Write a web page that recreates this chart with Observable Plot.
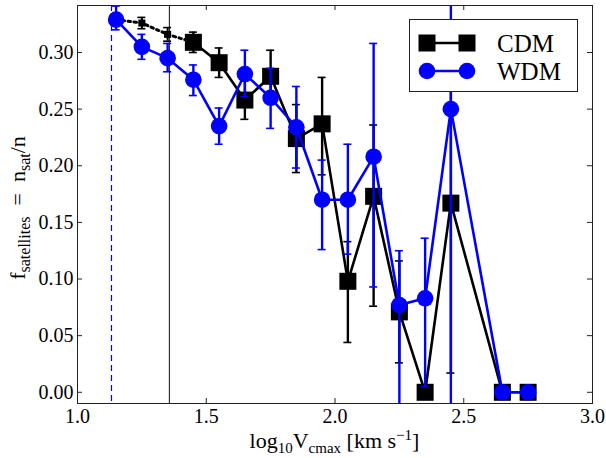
<!DOCTYPE html>
<html>
<head>
<meta charset="utf-8">
<script src="https://cdn.jsdelivr.net/npm/d3@7"></script>
<script src="https://cdn.jsdelivr.net/npm/@observablehq/plot@0.6"></script>
<style>
  html, body { margin: 0; padding: 0; background: white; }
  #chart { width: 606px; height: 458px; }
</style>
</head>
<body>
<div id="chart"></div>
<script>
// ---- data ----
const xTicks = [1.0, 1.5, 2.0, 2.5, 3.0];
const yTicks = [0.00, 0.05, 0.10, 0.15, 0.20, 0.25, 0.30];

// CDM (black squares, solid)
const cdmX     = [1.45, 1.55, 1.65, 1.75, 1.85, 1.95, 2.05, 2.15, 2.25, 2.35, 2.45, 2.65, 2.75];
const cdmY     = [0.309, 0.291, 0.258, 0.279, 0.224, 0.237, 0.098, 0.173, 0.071, 0.000, 0.167, 0.000, 0.000];
const cdmErrLo = [0.009, 0.013, 0.017, 0.023, 0.030, 0.045, 0.054, 0.097, 0.045, 0.000, 0.150, 0.000, 0.000];
const cdmErrHi = [0.009, 0.013, 0.017, 0.023, 0.030, 0.041, 0.035, 0.063, 0.045, 0.000, 0.150, 0.000, 0.000];

// CDM low-resolution continuation (black, dotted, small markers)
const cdmLowX   = [1.15, 1.25, 1.35, 1.45];
const cdmLowY   = [0.329, 0.326, 0.316, 0.309];
const cdmLowErr = [0.005, 0.005, 0.006, 0.000];

// WDM (blue circles)
const wdmX     = [1.15, 1.25, 1.35, 1.45, 1.55, 1.65, 1.75, 1.85, 1.95, 2.05, 2.15, 2.25, 2.35, 2.45, 2.65, 2.75];
const wdmY     = [0.329, 0.305, 0.295, 0.276, 0.235, 0.281, 0.260, 0.234, 0.170, 0.170, 0.208, 0.077, 0.083, 0.250, 0.000, 0.000];
const wdmErrLo = [0.009, 0.011, 0.012, 0.014, 0.016, 0.020, 0.027, 0.036, 0.044, 0.048, 0.115, 0.120, 0.078, 0.350, 0.000, 0.000];
const wdmErrHi = [0.012, 0.011, 0.013, 0.013, 0.016, 0.021, 0.026, 0.036, 0.035, 0.049, 0.100, 0.048, 0.053, 0.350, 0.000, 0.000];

// resolution limits (vertical lines)
const wdmLimit = [1.132];
const cdmLimit = [1.357];

const legendLabels = ["CDM", "WDM"];

// ---- build tables ----
const BLUE = "#0000ff";
const mk = (X, Y, lo, hi) => X.map((x, i) => ({x, y: Y[i], lo: Y[i] - lo[i], hi: Y[i] + hi[i], err: lo[i] + hi[i]}));
const cdm = mk(cdmX, cdmY, cdmErrLo, cdmErrHi);
const cdmLow = mk(cdmLowX, cdmLowY, cdmLowErr, cdmLowErr);
const wdm = mk(wdmX, wdmY, wdmErrLo, wdmErrHi);
const cdmLowPts = cdmLow.filter(d => d.err > 0);

const FONT = "'Liberation Serif', 'DejaVu Serif', serif";
const plotW = 606, plotH = 458, mL = 77, mR = 14, mT = 5, mB = 55;
const innerW = plotW - mL - mR, innerH = plotH - mT - mB;
const TICK = 5;

function errorMarks(data, color, w) {
  const f = data.filter(d => d.err > 0);
  return [
    Plot.ruleX(f, {x: "x", y1: "lo", y2: "hi", stroke: color, strokeWidth: w, clip: true}),
    Plot.ruleY(f, {y: "hi", x1: "x", x2: "x", insetLeft: -4, insetRight: -4, stroke: color, strokeWidth: 1.6, clip: true}),
    Plot.ruleY(f, {y: "lo", x1: "x", x2: "x", insetLeft: -4, insetRight: -4, stroke: color, strokeWidth: 1.6, clip: true})
  ];
}

const chart = Plot.plot({
  width: plotW, height: plotH,
  marginLeft: mL, marginRight: mR, marginTop: mT, marginBottom: mB,
  x: {domain: [1, 3]},
  y: {domain: [-0.0099, 0.3415]},
  style: {fontFamily: FONT, fontSize: "20px", background: "white", color: "black"},
  marks: [
    // resolution limits
    Plot.ruleX(wdmLimit, {stroke: BLUE, strokeWidth: 1.2, strokeDasharray: "6,4"}),
    Plot.ruleX(cdmLimit, {stroke: "#333", strokeWidth: 1.2}),
    // CDM low-res dotted
    Plot.line(cdmLow, {x: "x", y: "y", stroke: "black", strokeWidth: 3, strokeDasharray: "2.5,3.5"}),
    ...errorMarks(cdmLowPts, "black", 2),
    Plot.dot(cdmLowPts, {x: "x", y: "y", symbol: "square", r: 4, fill: "black"}),
    // CDM
    ...errorMarks(cdm, "black", 2.4),
    Plot.line(cdm, {x: "x", y: "y", stroke: "black", strokeWidth: 2.6}),
    Plot.dot(cdm, {x: "x", y: "y", symbol: "square", r: 9.6, fill: "black"}),
    // WDM
    ...errorMarks(wdm, BLUE, 2.4),
    Plot.line(wdm, {x: "x", y: "y", stroke: BLUE, strokeWidth: 2.6}),
    Plot.dot(wdm, {x: "x", y: "y", r: 8.3, fill: BLUE}),
    // inward ticks on all four sides
    Plot.ruleX(xTicks, {stroke: "#222", strokeWidth: 1, insetTop: innerH - TICK}),
    Plot.ruleX(xTicks, {stroke: "#222", strokeWidth: 1, insetBottom: innerH - TICK}),
    Plot.ruleY(yTicks, {stroke: "#222", strokeWidth: 1, insetRight: innerW - TICK}),
    Plot.ruleY(yTicks, {stroke: "#222", strokeWidth: 1, insetLeft: innerW - TICK}),
    // axes labels
    Plot.axisX(xTicks, {tickSize: 0, tickPadding: 5, tickFormat: d3.format(".1f"), label: null, fontSize: 20}),
    Plot.axisY(yTicks, {tickSize: 0, tickPadding: 4, tickFormat: d3.format(".2f"), label: null, fontSize: 20}),
    Plot.frame({stroke: "#222", strokeWidth: 1})
  ]
});

document.getElementById("chart").appendChild(chart);

// ---- axis titles with sub/superscripts ----
const svg = d3.select(chart);
const xl = svg.append("text")
  .attr("x", mL + innerW / 2).attr("y", 448)
  .attr("text-anchor", "middle")
  .attr("font-family", FONT).attr("font-size", 22).attr("fill", "black");
xl.append("tspan").text("log");
xl.append("tspan").attr("dy", 5).attr("font-size", 15).text("10");
xl.append("tspan").attr("dy", -5).text("V");
xl.append("tspan").attr("dy", 5).attr("font-size", 15).text("cmax");
xl.append("tspan").attr("dy", -5).text(" [km s");
xl.append("tspan").attr("dy", -8).attr("font-size", 15).text("−1");
xl.append("tspan").attr("dy", 8).text("]");

const yl = svg.append("text")
  .attr("transform", `translate(25,${mT + innerH / 2 + 4}) rotate(-90)`)
  .attr("text-anchor", "middle")
  .attr("font-family", FONT).attr("font-size", 22).attr("fill", "black")
  .style("white-space", "pre");
yl.append("tspan").text("f");
yl.append("tspan").attr("dy", 5).attr("font-size", 16).text("satellites");
yl.append("tspan").attr("dy", -5).text("  =  n");
yl.append("tspan").attr("dy", 5).attr("font-size", 16).text("sat");
yl.append("tspan").attr("dy", -5).text("/n");

// ---- legend ----
const lg = svg.append("g").attr("text-anchor", "start");
lg.append("rect").attr("x", 409.5).attr("y", 19.5).attr("width", 168).attr("height", 72)
  .attr("fill", "white").attr("stroke", "#222").attr("stroke-width", 1);
const rows = [
  {label: legendLabels[0], color: "black", shape: "square", y: 43},
  {label: legendLabels[1], color: BLUE, shape: "circle", y: 71}
];
rows.forEach(r => {
  lg.append("line").attr("x1", 427).attr("x2", 467).attr("y1", r.y).attr("y2", r.y)
    .attr("stroke", r.color).attr("stroke-width", 2.6);
  [427, 467].forEach(cx => {
    if (r.shape === "square") {
      lg.append("rect").attr("x", cx - 8.5).attr("y", r.y - 8.5).attr("width", 17).attr("height", 17).attr("fill", r.color);
    } else {
      lg.append("circle").attr("cx", cx).attr("cy", r.y).attr("r", 8.3).attr("fill", r.color);
    }
  });
  lg.append("text").attr("x", 497).attr("y", r.y + 9).attr("text-anchor", "start").attr("font-family", FONT)
    .attr("font-size", 25).attr("fill", "black").text(r.label);
});
</script>
</body>
</html>
